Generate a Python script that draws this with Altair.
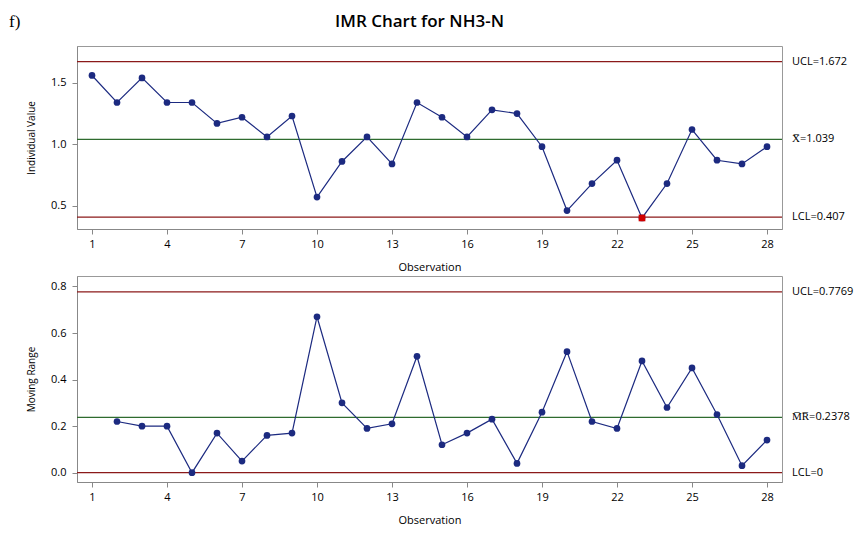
import altair as alt
import pandas as pd

obs = list(range(1, 29))
individual = [1.56, 1.34, 1.54, 1.34, 1.34, 1.17, 1.22, 1.06, 1.23, 0.57,
              0.86, 1.06, 0.84, 1.34, 1.22, 1.06, 1.28, 1.25, 0.98, 0.46,
              0.68, 0.87, 0.40, 0.68, 1.12, 0.87, 0.84, 0.98]
moving_range = [None, 0.22, 0.20, 0.20, 0.0, 0.17, 0.05, 0.16, 0.17, 0.67,
                0.30, 0.19, 0.21, 0.50, 0.12, 0.17, 0.23, 0.04, 0.26, 0.52,
                0.22, 0.19, 0.48, 0.28, 0.45, 0.25, 0.03, 0.14]
out_of_control = [23]

i_limits = {"UCL": 1.672, "CL": 1.039, "LCL": 0.407}
i_labels = {"UCL": "UCL=1.672", "CL": "X\u0305=1.039", "LCL": "LCL=0.407"}
mr_limits = {"UCL": 0.7769, "CL": 0.2378, "LCL": 0.0}
mr_labels = {"UCL": "UCL=0.7769", "CL": "M\u0305R\u0305=0.2378", "LCL": "LCL=0"}

W = 705
FONT = "Open Sans"
xticks = [1, 4, 7, 10, 13, 16, 19, 22, 25, 28]
line_colors = {"UCL": "#8b1a1a", "CL": "#2e6b2e", "LCL": "#8b1a1a"}


def panel(values, limits, labels, ytitle, ydomain, yticks, height, red=None, head=False):
    df = pd.DataFrame({"obs": obs, "val": values}).dropna()
    x = alt.X("obs:Q", title="Observation",
              scale=alt.Scale(domain=[0.4, 28.6], nice=False),
              axis=alt.Axis(values=xticks, grid=False, tickColor="#888",
                            domainColor="#888", labelFont=FONT, titleFont=FONT,
                            labelFontSize=11, titleFontSize=11, titleFontWeight="normal",
                            titlePadding=12, labelPadding=4))
    y = alt.Y("val:Q", title=ytitle,
              scale=alt.Scale(domain=ydomain, nice=False, zero=False),
              axis=alt.Axis(values=yticks, grid=False, format=".1f", tickColor="#888",
                            domainColor="#888", labelFont=FONT, titleFont=FONT,
                            labelFontSize=11, titleFontSize=10, titleFontWeight="normal",
                            titlePadding=14, labelPadding=6))
    lim = pd.DataFrame({"key": list(limits), "v": list(limits.values()),
                        "label": [labels[k] for k in limits]})
    rules = alt.Chart(lim).mark_rule(strokeWidth=1.3).encode(
        y=alt.Y("v:Q", scale=alt.Scale(domain=ydomain, nice=False, zero=False)),
        color=alt.Color("key:N", scale=alt.Scale(domain=list(line_colors),
                        range=list(line_colors.values())), legend=None),
        x=alt.value(0), x2=alt.value(W))
    texts = alt.Chart(lim).mark_text(align="left", font=FONT, fontSize=11,
                                     color="black", clip=False).encode(
        y="v:Q", x=alt.value(W + 10), text="label:N")
    line = alt.Chart(df).mark_line(color="#1c2a80", strokeWidth=1.2).encode(x=x, y=y)
    pts = alt.Chart(df).mark_circle(color="#1c2a80", size=45, opacity=1).encode(x="obs:Q", y="val:Q")
    layers = [rules, line, pts, texts]
    if red:
        rdf = df[df["obs"].isin(red)]
        layers.append(alt.Chart(rdf).mark_square(color="#d00000", size=45, opacity=1)
                      .encode(x="obs:Q", y="val:Q"))
    if head:
        layers.append(alt.Chart(pd.DataFrame({"t": ["f)"]})).mark_text(
            align="left", font="Liberation Serif", fontSize=17, clip=False).encode(
            x=alt.value(-68), y=alt.value(-24), text="t:N"))
        layers.append(alt.Chart(pd.DataFrame({"t": ["IMR Chart for NH3-N"]})).mark_text(
            align="center", font=FONT, fontSize=17, fontWeight=600, clip=False).encode(
            x=alt.value(W / 2 - 10), y=alt.value(-24), text="t:N"))
    return alt.layer(*layers).properties(width=W, height=height)


top = panel(individual, i_limits, i_labels, "Individual Value",
            [0.31, 1.8], [0.5, 1.0, 1.5], 183, red=out_of_control, head=True)
bottom = panel(moving_range, mr_limits, mr_labels, "Moving Range",
               [-0.04, 0.845], [0.0, 0.2, 0.4, 0.6, 0.8], 206)

chart = alt.vconcat(top, bottom, spacing=2).properties(
    padding={"left": 0, "top": 4, "right": 0, "bottom": 0}
).configure_view(stroke="#999").resolve_scale(color="independent")

chart.save("out.html", embed_options={"renderer": "svg", "actions": False})
